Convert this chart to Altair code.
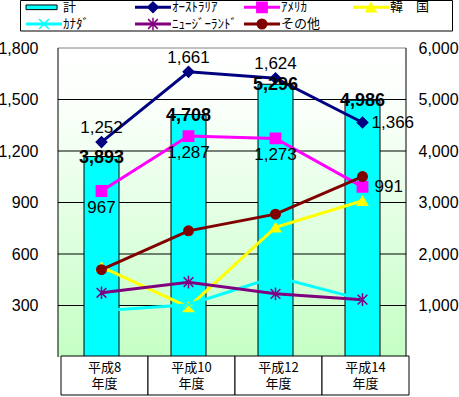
import altair as alt
import pandas as pd

# ---------------- data ----------------
categories = ["平成8年度", "平成10年度", "平成12年度", "平成14年度"]
total_name = "計"
total = [3893, 4708, 5296, 4986]
series_names = ["ｵｰｽﾄﾗﾘｱ", "ｱﾒﾘｶ", "韓　国", "ｶﾅﾀﾞ", "ﾆｭｰｼﾞｰﾗﾝﾄﾞ", "その他"]
australia = [1252, 1661, 1624, 1366]
america = [967, 1287, 1273, 991]
korea = [525, 290, 755, 910]
canada = [270, 305, 467, 334]
newzealand = [374, 436, 368, 334]
others = [509, 735, 832, 1051]
left_ticks = [300, 600, 900, 1200, 1500, 1800]
right_ticks = [1000, 2000, 3000, 4000, 5000, 6000]

series_values = [australia, america, korea, canada, newzealand, others]
colors = ["#000080", "#FF00FF", "#FFFF00", "#00FFFF", "#800080", "#800000"]
shapes = ["diamond", "square", "triangle-up",
          "M-1,-1L1,1M-1,1L1,-1",
          "M-1,-1L1,1M-1,1L1,-1M0,-1.3L0,1.3",
          "circle"]
sizes = [110, 90, 130, 70, 90, 110]

rows = []
for name, vals in zip(series_names, series_values):
    for ci, (c, v) in enumerate(zip(categories, vals)):
        rows.append({"series": name, "cat": c, "ci": ci, "value": v})
df = pd.DataFrame(rows)
bar_df = pd.DataFrame({"cat": categories, "total": total})
leg_df = pd.DataFrame({"name": [total_name] + series_names,
                       "idx": list(range(len(series_names) + 1))})

W, H = 348, 309
NUM_FONT = "Liberation Sans, Arial, sans-serif"
JP_FONT = "Noto Sans CJK JP, sans-serif"

xscale = alt.Scale(domain=categories, paddingInner=0, paddingOuter=0)
X = alt.X("cat:N", scale=xscale, axis=None)
yL = alt.Scale(domain=[0, 1800])
yR = alt.Scale(domain=[0, 6000])
cscale = alt.Scale(domain=series_names, range=colors)
sscale = alt.Scale(domain=series_names, range=shapes)
zscale = alt.Scale(domain=series_names, range=sizes)
one = alt.Data(values=[{}])

# background gradient
bg = alt.Chart(one).mark_rect(
    color=alt.Gradient(gradient="linear", x1=0, y1=0, x2=0, y2=1,
                       stops=[alt.GradientStop(color="#FFFFFF", offset=0),
                              alt.GradientStop(color="#FAFFFA", offset=0.2),
                              alt.GradientStop(color="#C4FFC4", offset=1)])
).encode(x=alt.value(0), x2=alt.value(W), y=alt.value(0), y2=alt.value(H))

grid = alt.Chart(pd.DataFrame({"v": left_ticks})).transform_filter(
    "datum.v < 1800").mark_rule(color="black", strokeWidth=1).encode(
    y=alt.Y("v:Q", scale=yL, axis=None))

border_top = alt.Chart(one).mark_rule(color="#808080", strokeWidth=1).encode(
    x=alt.value(0), x2=alt.value(W), y=alt.value(0))
border_lr = alt.Chart(pd.DataFrame({"s": [0, 1]})).mark_rule(color="black", strokeWidth=1).encode(
    x=alt.X("s:Q", scale=alt.Scale(domain=[0, 1], range=[0, W]), axis=None),
    y=alt.value(0), y2=alt.value(H))

bars = alt.Chart(bar_df).mark_bar(size=35, color="#00FFFF", stroke="black", strokeWidth=1).encode(
    x=X,
    y=alt.Y("total:Q", scale=yR,
            axis=alt.Axis(orient="right", values=right_ticks, format=",.0f", domain=False,
                          ticks=False, grid=False, labelPadding=12, labelFontSize=16,
                          labelFont=NUM_FONT, labelColor="black", title=None)))

lines = alt.Chart(df).mark_line(strokeWidth=3).encode(
    x=X,
    y=alt.Y("value:Q", scale=yL,
            axis=alt.Axis(orient="left", values=left_ticks, format=",.0f", domain=False,
                          ticks=False, grid=False, labelPadding=20, labelFontSize=16,
                          labelFont=NUM_FONT, labelColor="black", title=None)),
    color=alt.Color("series:N", scale=cscale, legend=None),
    order=alt.Order("ci:Q"))

points = alt.Chart(df).mark_point(filled=True, opacity=1, strokeWidth=1.5).encode(
    x=X,
    y=alt.Y("value:Q", scale=yL, axis=None),
    shape=alt.Shape("series:N", scale=sscale, legend=None),
    fill=alt.Fill("series:N", scale=cscale, legend=None),
    stroke=alt.Stroke("series:N", scale=cscale, legend=None),
    size=alt.Size("series:N", scale=zscale, legend=None))

def lbl(series, cond, **kw):
    return alt.Chart(df).transform_filter(
        alt.datum.series == series).transform_filter(cond).mark_text(
        font=NUM_FONT, fontSize=17, color="black", baseline="middle", **kw).encode(
        x=X, y=alt.Y("value:Q", scale=yL, axis=None),
        text=alt.Text("value:Q", format=","))

aus_a = lbl(series_names[0], "datum.ci < 3", dy=-14)
aus_r = lbl(series_names[0], "datum.ci == 3", dx=9, align="left")
ame_b = lbl(series_names[1], "datum.ci < 3", dy=17)
ame_r = lbl(series_names[1], "datum.ci == 3", dx=12, align="left")

bar_lbl = alt.Chart(bar_df).mark_text(font=NUM_FONT, fontSize=18, fontWeight="bold",
                                      color="black", baseline="middle", dy=1).encode(
    x=X, y=alt.Y("total:Q", scale=yR, axis=None), text=alt.Text("total:Q", format=","))

# category table
table = alt.Chart(bar_df).mark_rect(fill="white", stroke="black", strokeWidth=1, xOffset=3).encode(
    x=X, y=alt.value(H - 1), y2=alt.value(H + 38))
table_txt = alt.Chart(bar_df).transform_calculate(
    label="replace(datum.cat, '年度', '\\n年度')").mark_text(
    font=JP_FONT, fontSize=13, lineHeight=16, lineBreak="\n", baseline="middle",
    color="black", dx=3).encode(x=X, y=alt.value(H + 10.5), text="label:N")

# legend
Lx = alt.Scale(domain=[0, 4], range=[-32, 404])
Ly = alt.Scale(domain=[0, 1], range=[-40.7, -24])
leg_base = alt.Chart(leg_df).transform_calculate(
    col="datum.idx % 4", row="floor(datum.idx / 4)").transform_calculate(
    cx2="datum.col + 0.33", cxm="datum.col + 0.165", cxt="datum.col + 0.34",
    cxb="datum.col + 0.285", ry1="datum.row - 0.14", ry2="datum.row + 0.14")

leg_box = alt.Chart(one).mark_rect(fill="white", stroke="black", strokeWidth=1).encode(
    x=alt.value(-37.5), x2=alt.value(394.5), y=alt.value(-47.5), y2=alt.value(-17))
leg_bar = leg_base.transform_filter("datum.idx == 0").mark_rect(
    fill="#00FFFF", stroke="black", strokeWidth=1).encode(
    x=alt.X("col:Q", scale=Lx, axis=None), x2="cxb:Q",
    y=alt.Y("ry1:Q", scale=Ly, axis=None), y2="ry2:Q")
leg_line = leg_base.transform_filter("datum.idx > 0").mark_rule(strokeWidth=3).encode(
    x=alt.X("col:Q", scale=Lx, axis=None), x2="cx2:Q",
    y=alt.Y("row:Q", scale=Ly, axis=None),
    color=alt.Color("name:N", scale=cscale, legend=None))
leg_pt = leg_base.transform_filter("datum.idx > 0").mark_point(
    filled=True, opacity=1, strokeWidth=1.5).encode(
    x=alt.X("cxm:Q", scale=Lx, axis=None),
    y=alt.Y("row:Q", scale=Ly, axis=None),
    shape=alt.Shape("name:N", scale=sscale, legend=None),
    fill=alt.Fill("name:N", scale=cscale, legend=None),
    stroke=alt.Stroke("name:N", scale=cscale, legend=None),
    size=alt.Size("name:N", scale=zscale, legend=None))
leg_txt = leg_base.mark_text(font=JP_FONT, fontSize=13, align="left", baseline="middle",
                             color="black").encode(
    x=alt.X("cxt:Q", scale=Lx, axis=None),
    y=alt.Y("row:Q", scale=Ly, axis=None), text="name:N")

chart = alt.layer(
    bg, grid, border_top, border_lr, bars, lines, points,
    aus_a, aus_r, ame_b, ame_r, bar_lbl, table, table_txt,
    leg_box, leg_bar, leg_line, leg_pt, leg_txt
).resolve_scale(x="independent", y="independent").properties(
    width=W, height=H,
    padding={"left": 58, "top": 48, "right": 53, "bottom": 40},
    autosize=alt.AutoSizeParams(type="none"),
    background="white"
).configure_view(stroke=None)

chart.save("out.html", embed_options={"renderer": "svg", "actions": False})
